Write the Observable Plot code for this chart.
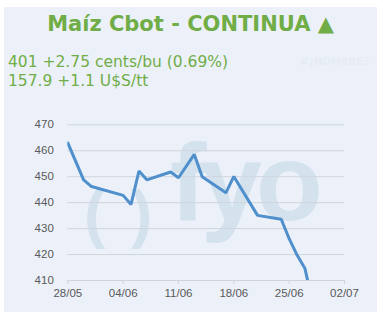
<!DOCTYPE html>
<html>
<head>
<meta charset="utf-8">
<script src="https://cdn.jsdelivr.net/npm/d3@7"></script>
<script src="https://cdn.jsdelivr.net/npm/@observablehq/plot@0.6"></script>
<style>
  html, body { margin: 0; padding: 0; background: #ffffff; width: 383px; height: 320px; overflow: hidden; position: relative; }
  #panel { position: absolute; left: 4px; top: 7px; width: 373px; height: 305px; background: #ecf1f9; }
  #title { position: absolute; left: 4px; width: 373px; top: 14px; text-align: center; font-family: "DejaVu Sans", sans-serif; font-weight: bold; font-size: 21px; line-height: 21px; color: #70ad47; white-space: nowrap; }
  #sub { position: absolute; left: 8px; top: 53px; font-family: "DejaVu Sans", sans-serif; font-size: 15.5px; line-height: 19px; color: #70ad47; white-space: nowrap; }
  #err { position: absolute; left: 300px; top: 56px; font-family: "DejaVu Sans", sans-serif; font-weight: bold; font-size: 10px; color: #e6ebf3; white-space: nowrap; }
  .wm { position: absolute; color: #d4e2ee; font-family: "Liberation Sans", sans-serif; font-weight: bold; line-height: 1; white-space: nowrap; }
  #chart { position: absolute; left: 0; top: 100px; }
</style>
</head>
<body>
<div id="panel"></div>
<div class="wm" style="left:170px; top:127px; font-size:110px; letter-spacing:-6px;">fyo</div>
<div class="wm" style="left:84px; top:182px; font-size:64px;">(</div>
<div class="wm" style="left:131px; top:182px; font-size:64px;">)</div>
<div id="title"></div>
<div id="sub"></div>
<div id="err">#¿NOMBRE?</div>
<div id="chart"></div>
<script>
// ---- data ----
const titleText = "Maíz Cbot - CONTINUA ▲";
const subLines = ["401 +2.75 cents/bu (0.69%)", "157.9 +1.1 U$S/tt"];
const dates = ["2024-05-28","2024-05-30","2024-05-31","2024-06-04","2024-06-05","2024-06-06","2024-06-07","2024-06-10","2024-06-11","2024-06-13","2024-06-14","2024-06-17","2024-06-18","2024-06-21","2024-06-24","2024-06-25","2024-06-26","2024-06-27","2024-06-28"];
const prices = [463.0, 448.8, 446.2, 442.8, 439.3, 452.2, 448.8, 451.8, 449.6, 458.6, 450.0, 443.8, 450.1, 435.1, 433.6, 426.1, 419.8, 414.6, 401];
const xTickDates = ["2024-05-28","2024-06-04","2024-06-11","2024-06-18","2024-06-25","2024-07-02"];
const yTicks = [410, 420, 430, 440, 450, 460, 470];

document.getElementById("title").textContent = titleText;
document.getElementById("sub").innerHTML = subLines.map(s => `<div>${s}</div>`).join("");

const parse = d3.utcParse("%Y-%m-%d");
const data = dates.map((d, i) => ({date: parse(d), price: prices[i]}));
const xt = xTickDates.map(parse);

const chart = Plot.plot({
  width: 383,
  height: 210,
  marginLeft: 67.3,
  marginRight: 39,
  marginTop: 24.3,
  marginBottom: 30,
  style: {background: "transparent", fontFamily: "Liberation Sans, sans-serif", fontSize: "11.5px", color: "#595959"},
  x: {type: "utc", domain: [xt[0], xt[xt.length - 1]]},
  y: {domain: [410, 470]},
  marks: [
    Plot.gridY(yTicks, {stroke: "#d0d5dc", strokeOpacity: 1, strokeWidth: 1}),
    Plot.ruleY([410], {stroke: "#d0d5dc", strokeWidth: 1}),
    Plot.axisY(yTicks, {tickSize: 0, tickPadding: 14, label: null, fill: "#595959"}),
    Plot.axisX(xt, {tickSize: 4, tickPadding: 4, stroke: "#d0d5dc", tickFormat: d3.utcFormat("%d/%m"), label: null, fill: "#595959"}),
    Plot.line(data, {x: "date", y: "price", stroke: "#4f8fcc", strokeWidth: 3, clip: true, strokeLinejoin: "miter"})
  ]
});
document.getElementById("chart").appendChild(chart);
</script>
</body>
</html>
